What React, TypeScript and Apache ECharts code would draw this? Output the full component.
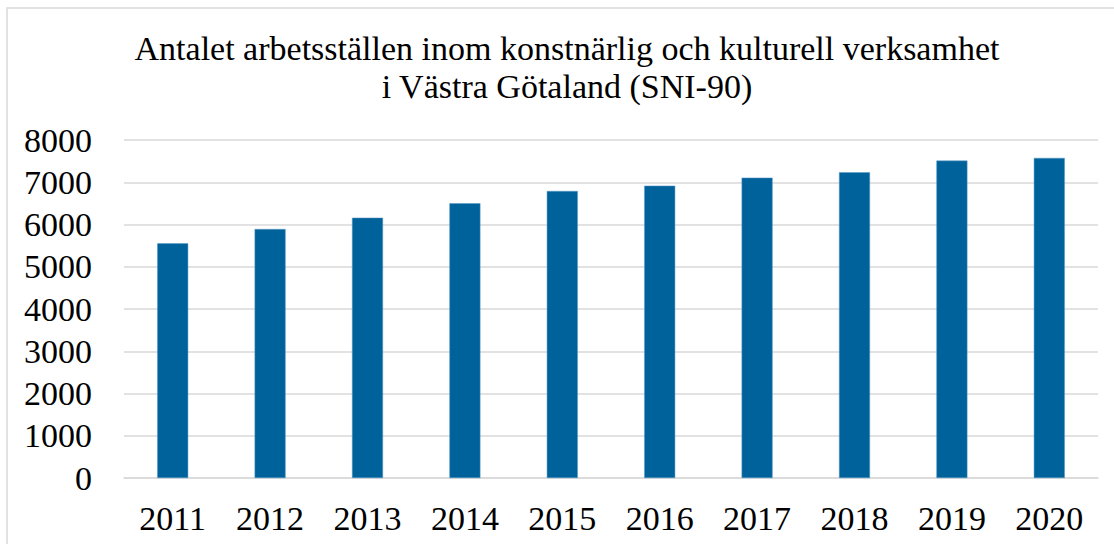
import React, { useEffect, useRef } from "react";
import * as echarts from "echarts";

const years = ["2011", "2012", "2013", "2014", "2015", "2016", "2017", "2018", "2019", "2020"];
const workplaces = [5555, 5893, 6161, 6502, 6794, 6919, 7109, 7237, 7512, 7576];
const titleText = "Antalet arbetsställen inom konstnärlig och kulturell verksamhet\ni Västra Götaland (SNI-90)";

export default function App() {
  const ref = useRef<HTMLDivElement>(null);
  useEffect(() => {
    if (!ref.current) return;
    const chart = echarts.init(ref.current, undefined, { renderer: "svg" });
    const font = "'Liberation Serif', 'DejaVu Serif', serif";
    chart.setOption({
      animation: false,
      backgroundColor: "#ffffff",
      title: {
        text: titleText,
        left: 567,
        top: 29,
        padding: 0,
        textAlign: "center",
        textStyle: {
          fontFamily: font,
          fontSize: 34,
          fontWeight: "normal",
          color: "#000000",
          lineHeight: 38,
        },
      },
      graphic: [
        {
          type: "rect",
          shape: { x: 7, y: 8, width: 1130, height: 560 },
          style: { fill: "none", stroke: "#d9d9d9", lineWidth: 1.5 },
          silent: true,
        },
      ],
      grid: { left: 124, right: 16, top: 140, bottom: 66, containLabel: false },
      xAxis: {
        type: "category",
        data: years,
        axisLine: { show: true, lineStyle: { color: "#d9d9d9", width: 1.5 } },
        axisTick: { show: false },
        axisLabel: {
          fontFamily: font,
          fontSize: 34,
          lineHeight: 34,
          color: "#000000",
          margin: 23,
        },
      },
      yAxis: {
        type: "value",
        min: 0,
        max: 8000,
        interval: 1000,
        axisLine: { show: false },
        axisTick: { show: false },
        splitLine: { lineStyle: { color: "#d9d9d9", width: 1.5 } },
        axisLabel: {
          fontFamily: font,
          fontSize: 34,
          color: "#000000",
          margin: 32,
          formatter: (v: number) => String(v),
        },
      },
      series: [
        {
          type: "bar",
          data: workplaces,
          barWidth: 31,
          itemStyle: { color: "#00629b", borderColor: "#5b9bc7", borderWidth: 0.5 },
        },
      ],
    });
    return () => chart.dispose();
  }, []);
  return (
    <div
      ref={ref}
      style={{ position: "absolute", left: 0, top: 0, width: 1114, height: 544 }}
    />
  );
}
